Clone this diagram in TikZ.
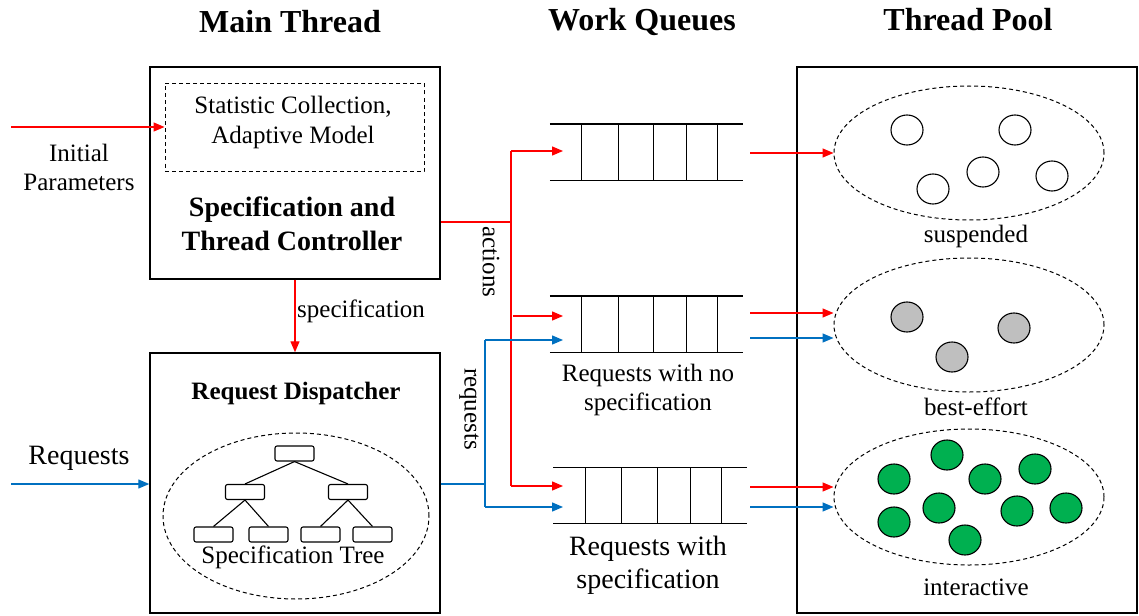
\documentclass[tikz,border=0pt]{standalone}
\usepackage{fontspec}
\setmainfont{Liberation Serif}
\usetikzlibrary{arrows.meta,shapes.geometric,calc}
\definecolor{myred}{HTML}{FF0000}
\definecolor{myblue}{HTML}{0070C0}
\definecolor{mygreen}{HTML}{00B050}
\definecolor{mygray}{HTML}{BFBFBF}
\newcommand{\fs}[1]{\fontsize{#1}{#1}\selectfont}
\begin{document}
\begin{tikzpicture}[x=1pt,y=-1pt,
  box/.style={draw,line width=1.4pt,minimum width=#1,inner sep=0pt},
  dbox/.style={draw,dashed,line width=1pt,dash pattern=on 4pt off 3pt},
  qbox/.style={minimum width=193pt,minimum height=56pt,inner sep=0pt},
  qline/.style={line width=1.4pt},
  rline/.style={myred,line width=1.3pt},
  bline/.style={myblue,line width=1.3pt},
  rarr/.style={rline,-{Triangle[length=11pt,width=9pt]}},
  barr/.style={bline,-{Triangle[length=11pt,width=9pt]}},
  dell/.style={draw,ellipse,dashed,line width=1pt,dash pattern=on 4pt off 3pt,inner sep=0pt},
  thr/.style={draw,ellipse,line width=1.1pt,minimum width=32pt,minimum height=30pt,inner sep=0pt},
  tnode/.style={draw,rounded corners=2pt,line width=1.1pt,minimum width=39pt,minimum height=15pt,inner sep=0pt},
  title/.style={font=\fs{32}\bfseries},
  lbl/.style={font=\fs{25},align=center,inner sep=0pt},
]
\useasboundingbox (0,0) rectangle (1139,615);

% titles
\node[title] (t1) at (290,22) {Main Thread};
\node[title] (t2) at (642,22) {Work Queues};
\node[title] (t3) at (968,20) {Thread Pool};

% main controller box
\node[draw,line width=1.4pt,minimum width=290pt,minimum height=212pt,inner sep=0pt] (ctrl) at (295,173) {};
\node[dbox,minimum width=259pt,minimum height=88pt,inner sep=0pt] (stat) at (294.5,127.5) {};
\node[lbl] (stattxt) at (293,122) {Statistic Collection,\\[5pt]Adaptive Model};
\node[font=\fs{28}\bfseries,align=center,inner sep=0pt] (ctrltxt) at (292,224) {Specification and\\[6pt]Thread Controller};

% initial parameters
\coordinate (ip) at (11,127);
\draw[rarr] (ip) -- (stat.west |- ip);
\node[lbl] (iptxt) at (79,167) {Initial\\[4pt]Parameters};

% dispatcher box
\node[draw,line width=1.4pt,minimum width=290pt,minimum height=260pt,inner sep=0pt] (disp) at (295,483) {};
\node[font=\fs{25}\bfseries,inner sep=0pt] (disptxt) at (296,393) {Request Dispatcher};
\node[dell,minimum width=266pt,minimum height=166pt] (tree) at (296,516) {};
\node[tnode] (n0) at (294.5,453.5) {};
\node[tnode] (n1) at (245,492) {};
\node[tnode] (n2) at (348,492) {};
\node[tnode] (n3) at (213.5,534.5) {};
\node[tnode] (n4) at (268.5,534.5) {};
\node[tnode] (n5) at (320.5,534.5) {};
\node[tnode] (n6) at (372.5,534.5) {};
\draw[line width=1.1pt] (n0.south) -- (n1.north) (n0.south) -- (n2.north)
  (n1.south) -- (n3.north) (n1.south) -- (n4.north)
  (n2.south) -- (n5.north) (n2.south) -- (n6.north);
\node[lbl] (treetxt) at (293,557) {Specification Tree};

% specification arrow
\draw[rarr] (ctrl.south) -- (disp.north);
\node[lbl,anchor=west] (spectxt) at (297,311) {specification};

% requests in
\coordinate (rq) at (11,484);
\draw[barr] (rq) -- (disp.west |- rq);
\node[font=\fs{28},inner sep=0pt] (rqtxt) at (79,458) {Requests};

% queues
\node[qbox] (q1) at (646.5,152) {};
\node[qbox] (q2) at (646.5,324) {};
\node[qbox] (q3) at (650,495.5) {};
\foreach \q in {q1,q2} {
  \draw[qline] (\q.north west) -- (\q.north east) (\q.south west) -- (\q.south east);
  \foreach \dx in {32,69,104,137,168} {
    \draw[line width=1.1pt] ($(\q.north west)+(\dx,0)$) -- ($(\q.south west)+(\dx,0)$);
  }
}
\draw[qline] (q3.north west) -- (q3.north east) (q3.south west) -- (q3.south east);
\foreach \dx in {32,68,104,137,168} {
  \draw[line width=1.1pt] ($(q3.north west)+(\dx,0)$) -- ($(q3.south west)+(\dx,0)$);
}
\node[lbl] (q2txt) at (648,390) {Requests with no\\[4pt]specification};
\node[font=\fs{28},align=center,inner sep=0pt] (q3txt) at (648,565) {Requests with\\[5pt]specification};

% actions (red)
\coordinate (ra) at (511,222);
\coordinate (r1) at (511,151);
\coordinate (r2) at (513,316);
\coordinate (r3) at (511,486);
\coordinate (r1e) at (563,151);
\coordinate (r2e) at (563,316);
\coordinate (r3e) at (563,486);
\draw[rline] (ra -| ctrl.east) -- (ra);
\draw[rline] (r1) -- (r3);
\draw[rarr] (r1) -- (r1e);
\draw[rarr] (r2) -- (r2e);
\draw[rarr] (r3) -- (r3e);
\node[lbl,rotate=-90] (acttxt) at (491,262) {actions};

% requests (blue)
\coordinate (ba) at (485,484);
\coordinate (b2) at (485,340);
\coordinate (b3) at (485,507);
\coordinate (b2e) at (563,340);
\coordinate (b3e) at (563,507);
\draw[bline] (ba -| disp.east) -- (ba);
\draw[bline] (b2) -- (b3);
\draw[barr] (b2) -- (b2e);
\draw[barr] (b3) -- (b3e);
\node[lbl,rotate=-90] (reqtxt) at (469,409) {requests};

% thread pool
\node[draw,line width=1.4pt,minimum width=340pt,minimum height=546pt,inner sep=0pt] (pool) at (967,340) {};
\node[dell,minimum width=270pt,minimum height=134pt] (e1) at (969,153) {};
\node[dell,minimum width=270pt,minimum height=134pt] (e2) at (969,325) {};
\node[dell,minimum width=270pt,minimum height=136pt] (e3) at (969,497) {};
\node[lbl] (e1txt) at (976,236) {suspended};
\node[lbl] (e2txt) at (976,407) {best-effort};
\node[lbl] (e3txt) at (976,587) {interactive};

\foreach \p [count=\i] in {(907,130),(1015,130),(983,172),(933,189),(1052,176)}
  \node[thr] (s\i) at \p {};
\foreach \p [count=\i] in {(907,317),(1014,328),(952,357)}
  \node[thr,fill=mygray] (g\i) at \p {};
\foreach \p [count=\i] in {(947,455),(894,479),(985,479),(1035,469),(939,508),(894,522),(1017,511),(1066,508),(965,540)}
  \node[thr,fill=mygreen] (i\i) at \p {};

% output arrows
\coordinate (o1) at (750,153);
\coordinate (o2r) at (750,313);
\coordinate (o2b) at (750,338);
\coordinate (o3r) at (750,487);
\coordinate (o3b) at (750,507);
\draw[rarr] (o1) -- (o1 -| e1.west);
\draw[rarr] (o2r) -- (o2r -| e2.west);
\draw[barr] (o2b) -- (o2b -| e2.west);
\draw[rarr] (o3r) -- (o3r -| e3.west);
\draw[barr] (o3b) -- (o3b -| e3.west);
\end{tikzpicture}
\end{document}
